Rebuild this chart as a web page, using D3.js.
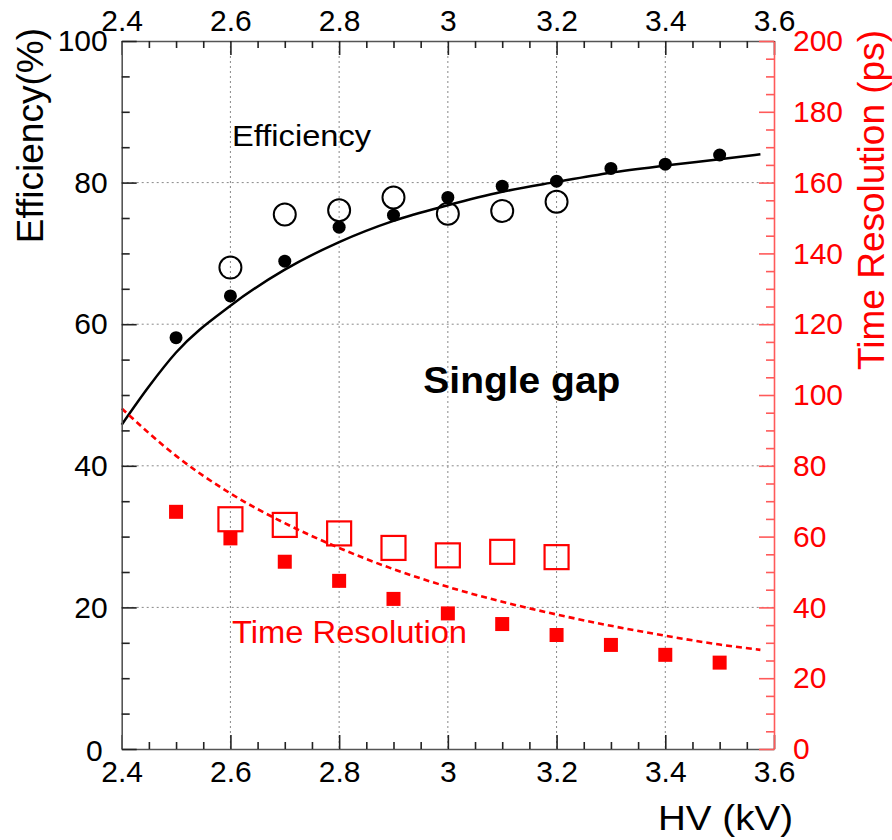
<!DOCTYPE html>
<html>
<head>
<meta charset="utf-8">
<script src="https://cdn.jsdelivr.net/npm/d3@7"></script>
<style>
  html, body { margin: 0; padding: 0; background: #fff; }
  svg { display: block; font-family: "Liberation Sans", Arial, Helvetica, sans-serif; }
</style>
</head>
<body>
<svg id="chart" width="892" height="840"></svg>
<script>
// ---------------- data ----------------
const hvFilled = [2.5, 2.6, 2.7, 2.8, 2.9, 3.0, 3.1, 3.2, 3.3, 3.4, 3.5];
const effFilled = [58.1, 64.0, 68.9, 73.7, 75.4, 77.9, 79.5, 80.2, 82.0, 82.6, 83.9];
const timeFilled = [67.0, 59.5, 52.9, 47.5, 42.4, 38.3, 35.3, 32.2, 29.4, 26.6, 24.4];

const hvOpen = [2.6, 2.7, 2.8, 2.9, 3.0, 3.1, 3.2];
const effOpen = [68.0, 75.5, 76.1, 77.9, 75.6, 76.0, 77.3];
const timeOpen = [64.9, 63.3, 60.9, 56.8, 54.7, 55.7, 54.2];

const effFitHV = [2.4, 2.45, 2.5, 2.6, 2.7, 2.8, 2.9, 3.0, 3.1, 3.2, 3.3, 3.4, 3.5, 3.575];
const effFit = [45.8, 51.2, 56.0, 62.6, 67.7, 71.6, 74.6, 76.8, 78.7, 80.1, 81.4, 82.4, 83.3, 84.0];

const timeFitHV = [2.4, 2.5, 2.6, 2.7, 2.8, 2.9, 3.0, 3.1, 3.2, 3.3, 3.4, 3.5, 3.575];
const timeFit = [96.2, 82.8, 72.2, 63.8, 56.8, 50.8, 45.8, 41.6, 38.0, 34.8, 32.0, 29.5, 28.0];

const xTicks = [2.4, 2.6, 2.8, 3.0, 3.2, 3.4, 3.6];
const effTicks = [0, 20, 40, 60, 80, 100];
const timeTicks = [0, 20, 40, 60, 80, 100, 120, 140, 160, 180, 200];

// ---------------- layout ----------------
const L = 121.7, R = 774, T = 41, B = 749;
const svg = d3.select("#chart");
const x = d3.scaleLinear().domain([2.4, 3.6]).range([L, R]);
const yE = d3.scaleLinear().domain([0, 100]).range([B, T]);
const yT = d3.scaleLinear().domain([0, 200]).range([B, T]);
const red = "#ff0000";
const axisCol = "#555";

// grid
const grid = svg.append("g").attr("stroke", "#888").attr("stroke-width", 1).attr("stroke-dasharray", "2,3");
xTicks.filter(v => v > 2.41 && v < 3.59).forEach(v => {
  grid.append("line").attr("x1", x(v)).attr("x2", x(v)).attr("y1", T).attr("y2", B);
});
effTicks.filter(v => v > 0 && v < 100).forEach(v => {
  grid.append("line").attr("x1", L).attr("x2", R).attr("y1", yE(v)).attr("y2", yE(v));
});

// fit curves
const effLine = d3.line().x((d, i) => x(effFitHV[i])).y(d => yE(d)).curve(d3.curveMonotoneX);
svg.append("path").attr("d", effLine(effFit)).attr("fill", "none").attr("stroke", "#000").attr("stroke-width", 2.5);
const timeLine = d3.line().x((d, i) => x(timeFitHV[i])).y(d => yT(d)).curve(d3.curveMonotoneX);
svg.append("path").attr("d", timeLine(timeFit)).attr("fill", "none").attr("stroke", red)
  .attr("stroke-width", 2.6).attr("stroke-dasharray", "6,4");

// markers
svg.append("g").selectAll("circle").data(effOpen).join("circle")
  .attr("cx", (d, i) => x(hvOpen[i])).attr("cy", d => yE(d)).attr("r", 11)
  .attr("fill", "none").attr("stroke", "#000").attr("stroke-width", 2);
svg.append("g").selectAll("circle").data(effFilled).join("circle")
  .attr("cx", (d, i) => x(hvFilled[i])).attr("cy", d => yE(d)).attr("r", 6.5)
  .attr("fill", "#000");
const so = 24, sf = 14;
svg.append("g").selectAll("rect").data(timeOpen).join("rect")
  .attr("x", (d, i) => x(hvOpen[i]) - so / 2).attr("y", d => yT(d) - so / 2)
  .attr("width", so).attr("height", so)
  .attr("fill", "none").attr("stroke", red).attr("stroke-width", 2.2);
svg.append("g").selectAll("rect").data(timeFilled).join("rect")
  .attr("x", (d, i) => x(hvFilled[i]) - sf / 2).attr("y", d => yT(d) - sf / 2)
  .attr("width", sf).attr("height", sf).attr("fill", red);

// axes
const fmtX = d => String(+d.toFixed(1));
const minorX = d3.range(2.45, 3.6, 0.05).map(v => +v.toFixed(2)).filter(v => Math.abs(v * 5 - Math.round(v * 5)) > 1e-6);
const minorE = d3.range(5, 100, 5).filter(v => v % 20 !== 0);
const minorT = d3.range(5, 200, 5).filter(v => v % 20 !== 0);

function styleAxis(g, col, lab) {
  g.selectAll(".domain").attr("stroke", col).attr("stroke-width", 1.6);
  g.selectAll(".tick line").attr("stroke", col).attr("stroke-width", 1.6);
  g.selectAll(".tick text").attr("fill", lab).attr("font-size", 30)
    .attr("font-family", '"Liberation Sans", Arial, Helvetica, sans-serif');
}
// bottom
const gB = svg.append("g").attr("transform", `translate(0,${B})`)
  .call(d3.axisBottom(x).tickValues(xTicks).tickFormat(fmtX).tickSizeInner(-14).tickSizeOuter(0).tickPadding(12));
styleAxis(gB, "#222", "#000"); gB.select(".domain").attr("stroke", axisCol);
const gBm = svg.append("g").attr("transform", `translate(0,${B})`)
  .call(d3.axisBottom(x).tickValues(minorX).tickFormat("").tickSizeInner(-7).tickSizeOuter(0));
gBm.select(".domain").remove(); gBm.selectAll(".tick line").attr("stroke", "#222").attr("stroke-width", 1.6);
// top
const gT = svg.append("g").attr("transform", `translate(0,${T})`)
  .call(d3.axisTop(x).tickValues(xTicks).tickFormat(fmtX).tickSizeInner(-14).tickSizeOuter(0).tickPadding(10));
styleAxis(gT, "#222", "#000"); gT.select(".domain").attr("stroke", axisCol);
const gTm = svg.append("g").attr("transform", `translate(0,${T})`)
  .call(d3.axisTop(x).tickValues(minorX).tickFormat("").tickSizeInner(-7).tickSizeOuter(0));
gTm.select(".domain").remove(); gTm.selectAll(".tick line").attr("stroke", "#222").attr("stroke-width", 1.6);
// left
const gL = svg.append("g").attr("transform", `translate(${L},0)`)
  .call(d3.axisLeft(yE).tickValues(effTicks).tickSizeInner(-15).tickSizeOuter(0).tickPadding(14));
styleAxis(gL, "#222", "#000"); gL.select(".domain").attr("stroke", axisCol);
// the "0" label sits a little further left, as in the source figure
gL.selectAll(".tick").filter(d => d === 0).select("text").attr("dx", -5).attr("dy", "0.38em");
const gLm = svg.append("g").attr("transform", `translate(${L},0)`)
  .call(d3.axisLeft(yE).tickValues(minorE).tickFormat("").tickSizeInner(-8).tickSizeOuter(0));
gLm.select(".domain").remove(); gLm.selectAll(".tick line").attr("stroke", "#222").attr("stroke-width", 1.6);
// right
const gR = svg.append("g").attr("transform", `translate(${R},0)`)
  .call(d3.axisRight(yT).tickValues(timeTicks).tickSizeInner(-15).tickSizeOuter(0).tickPadding(19));
styleAxis(gR, "#ff5a5a", red);
const gRm = svg.append("g").attr("transform", `translate(${R},0)`)
  .call(d3.axisRight(yT).tickValues(minorT).tickFormat("").tickSizeInner(-8).tickSizeOuter(0));
gRm.select(".domain").remove(); gRm.selectAll(".tick line").attr("stroke", "#ff5a5a").attr("stroke-width", 1.6);

// titles
svg.append("text").attr("transform", "translate(43,28) rotate(-90)")
  .attr("text-anchor", "end").attr("font-size", 37).attr("fill", "#000").text("Efficiency(%)");
svg.append("text").attr("transform", "translate(884,30) rotate(-90)")
  .attr("text-anchor", "end").attr("font-size", 37).attr("fill", red).text("Time Resolution (ps)");
svg.append("text").attr("x", 658).attr("y", 830).attr("font-size", 35)
  .attr("textLength", 135).attr("lengthAdjust", "spacingAndGlyphs").attr("fill", "#000").text("HV (kV)");

// annotations
svg.append("text").attr("x", x(2.603)).attr("y", yE(85.1)).attr("font-size", 29)
  .attr("textLength", 139).attr("lengthAdjust", "spacingAndGlyphs").attr("fill", "#000").text("Efficiency");
svg.append("text").attr("x", x(2.955)).attr("y", yE(50.3)).attr("font-size", 37).attr("font-weight", "bold")
  .attr("textLength", 197).attr("lengthAdjust", "spacingAndGlyphs").attr("fill", "#000").text("Single gap");
svg.append("text").attr("x", x(2.603)).attr("y", yE(15.0)).attr("font-size", 31)
  .attr("textLength", 235).attr("lengthAdjust", "spacingAndGlyphs").attr("fill", red).text("Time Resolution");
</script>
</body>
</html>
